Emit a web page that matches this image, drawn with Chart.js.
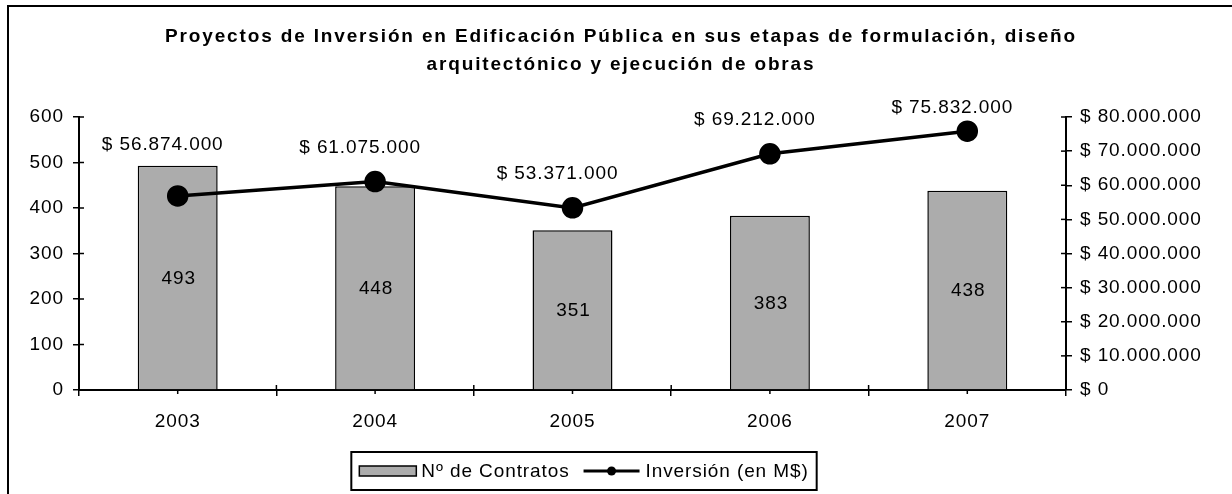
<!DOCTYPE html>
<html>
<head>
<meta charset="utf-8">
<script src="https://cdn.jsdelivr.net/npm/chart.js@4/dist/chart.umd.min.js"></script>
<style>
  html, body { margin: 0; padding: 0; background: #fff; }
  canvas { display: block; }
</style>
</head>
<body>
<canvas id="grafica" width="1232" height="494"></canvas>
<script>
// Datos
const anios = ["2003", "2004", "2005", "2006", "2007"];
const contratos = [493, 448, 351, 383, 438];
const inversion = [56874000, 61075000, 53371000, 69212000, 75832000];

const tituloLineas = [
  "Proyectos de Inversión en Edificación Pública en sus etapas de formulación, diseño",
  "arquitectónico y ejecución de obras"
];
const nombreBarras = "Nº de Contratos";
const nombreLinea = "Inversión (en M$)";

const maxContratos = 600, pasoContratos = 100;
const maxInversion = 80000000, pasoInversion = 10000000;

const FUENTE = "'Liberation Sans', Arial, sans-serif";
const TAM = 19;
const ESPACIADO = "0.9px";
const GRIS = "#acacac";

function formatoPesos(v) {
  return "$ " + String(v).replace(/\B(?=(\d{3})+(?!\d))/g, ".");
}

function linea(ctx, x1, y1, x2, y2) {
  ctx.beginPath();
  ctx.moveTo(x1, y1);
  ctx.lineTo(x2, y2);
  ctx.stroke();
}

// espaciado de letras parecido al de Excel y marco exterior
const estilo = {
  id: "estilo",
  beforeUpdate(chart) { chart.ctx.letterSpacing = ESPACIADO; },
  beforeDraw(chart) {
    const ctx = chart.ctx;
    ctx.letterSpacing = ESPACIADO;
    ctx.save();
    ctx.fillStyle = "#fff";
    ctx.fillRect(0, 0, chart.width, chart.height);
    ctx.strokeStyle = "#000";
    ctx.lineWidth = 2;
    linea(ctx, 7, 6, chart.width, 6);
    linea(ctx, 8, 6, 8, chart.height);
    ctx.restore();
  }
};

// título en dos líneas
const titulo = {
  id: "titulo",
  afterDraw(chart) {
    const ctx = chart.ctx;
    ctx.save();
    ctx.font = "bold 19px " + FUENTE;
    ctx.fillStyle = "#000";
    ctx.textAlign = "center";
    ctx.textBaseline = "alphabetic";
    ctx.letterSpacing = "0px";
    const ancho = ctx.measureText(tituloLineas[0]).width;
    const extra = Math.max(0, (912 - ancho) / tituloLineas[0].length);
    ctx.letterSpacing = extra.toFixed(2) + "px";
    tituloLineas.forEach((t, i) => ctx.fillText(t, 621, 42 + i * 28));
    ctx.restore();
  }
};

// marcas de los ejes que cruzan la línea, como en Excel
const marcas = {
  id: "marcas",
  afterDraw(chart) {
    const ctx = chart.ctx;
    const { x, y, y2 } = chart.scales;
    const area = chart.chartArea;
    ctx.save();
    ctx.strokeStyle = "#000";
    ctx.lineWidth = 1.5;
    y.ticks.forEach((t, i) => {
      const py = y.getPixelForTick(i);
      linea(ctx, area.left, py, area.left + 5, py);
    });
    y2.ticks.forEach((t, i) => {
      const py = y2.getPixelForTick(i);
      linea(ctx, area.right - 5, py, area.right, py);
    });
    const n = x.ticks.length;
    for (let i = 0; i <= n; i++) {
      const px = x.getPixelForValue(i - 0.5);
      linea(ctx, px, area.bottom - 5, px, area.bottom);
    }
    for (let i = 0; i < n; i++) {
      const px = x.getPixelForTick(i);
      linea(ctx, px, area.bottom, px, area.bottom + 4);
    }
    ctx.restore();
  }
};

// etiquetas de datos
const etiquetas = {
  id: "etiquetas",
  afterDatasetsDraw(chart) {
    const ctx = chart.ctx;
    const barras = chart.getDatasetMeta(0).data;
    const puntos = chart.getDatasetMeta(1).data;
    const area = chart.chartArea;
    ctx.save();
    ctx.font = TAM + "px " + FUENTE;
    ctx.fillStyle = "#000";
    ctx.textAlign = "center";
    ctx.textBaseline = "middle";
    barras.forEach((b, i) => {
      ctx.fillText(String(contratos[i]), b.x + 1, (b.y + b.base) / 2 + 1);
    });
    puntos.forEach((p, i) => {
      let py = Math.min(p.y - 34, barras[i].y - 21);
      py = Math.max(py, area.top - 9);
      ctx.fillText(formatoPesos(inversion[i]), p.x - 15, py);
    });
    ctx.restore();
  }
};

// leyenda con recuadro
const leyenda = {
  id: "leyenda",
  afterDraw(chart) {
    const ctx = chart.ctx;
    const ds = chart.data.datasets;
    ctx.save();
    ctx.font = TAM + "px " + FUENTE;
    const w1 = ctx.measureText(ds[0].label).width;
    const w2 = ctx.measureText(ds[1].label).width;
    const ancho = 8 + 57 + 5 + w1 + 14 + 56 + 6 + w2 + 8;
    const cx = 584, cy = 471;
    const x0 = cx - ancho / 2;
    ctx.strokeStyle = "#000";
    ctx.lineWidth = 2;
    ctx.fillStyle = "#fff";
    ctx.fillRect(x0, cy - 19, ancho, 38);
    ctx.strokeRect(x0, cy - 19, ancho, 38);
    let px = x0 + 8;
    ctx.fillStyle = ds[0].backgroundColor;
    ctx.lineWidth = 1.5;
    ctx.fillRect(px, cy - 5, 57, 10);
    ctx.strokeRect(px, cy - 5, 57, 10);
    px += 57 + 5;
    ctx.fillStyle = "#000";
    ctx.textAlign = "left";
    ctx.textBaseline = "middle";
    ctx.fillText(ds[0].label, px, cy + 1);
    px += w1 + 14;
    ctx.lineWidth = 3;
    linea(ctx, px, cy, px + 56, cy);
    ctx.beginPath();
    ctx.arc(px + 28, cy, 4.5, 0, Math.PI * 2);
    ctx.fill();
    px += 56 + 6;
    ctx.fillText(ds[1].label, px, cy + 1);
    ctx.restore();
  }
};

const ejeComun = {
  border: { display: true, color: "#000", width: 2 },
  grid: { drawOnChartArea: false, color: "#000", lineWidth: 1.5, tickLength: 6 },
  ticks: { color: "#000", font: { family: FUENTE, size: TAM } }
};

new Chart(document.getElementById("grafica").getContext("2d"), {
  data: {
    labels: anios,
    datasets: [
      {
        type: "bar",
        label: nombreBarras,
        data: contratos,
        yAxisID: "y",
        backgroundColor: GRIS,
        borderColor: "#000",
        borderWidth: 1.5,
        categoryPercentage: 1,
        barPercentage: 0.405,
        order: 1
      },
      {
        type: "line",
        label: nombreLinea,
        data: inversion,
        yAxisID: "y2",
        borderColor: "#000",
        borderWidth: 3.5,
        pointRadius: 9,
        pointBackgroundColor: "#000",
        pointBorderColor: "#000",
        tension: 0,
        order: 0
      }
    ]
  },
  options: {
    responsive: false,
    animation: false,
    devicePixelRatio: 1,
    layout: { padding: { top: 117, left: 0, right: 0, bottom: 0 } },
    plugins: {
      legend: { display: false },
      title: { display: false },
      tooltip: { enabled: false }
    },
    scales: {
      x: {
        ...ejeComun,
        grid: { ...ejeComun.grid, offset: true },
        ticks: { ...ejeComun.ticks, padding: 14 },
        afterFit(s) { s.height = 494 - 390; }
      },
      y: {
        ...ejeComun,
        position: "left",
        min: 0,
        max: maxContratos,
        ticks: { ...ejeComun.ticks, stepSize: pasoContratos, padding: 9 },
        afterFit(s) { s.width = 79; }
      },
      y2: {
        ...ejeComun,
        position: "right",
        min: 0,
        max: maxInversion,
        ticks: {
          ...ejeComun.ticks,
          stepSize: pasoInversion,
          padding: 8,
          callback: v => formatoPesos(v)
        },
        afterFit(s) { s.width = 1232 - 1066; }
      }
    }
  },
  plugins: [estilo, marcas, etiquetas, titulo, leyenda]
});
</script>
</body>
</html>
